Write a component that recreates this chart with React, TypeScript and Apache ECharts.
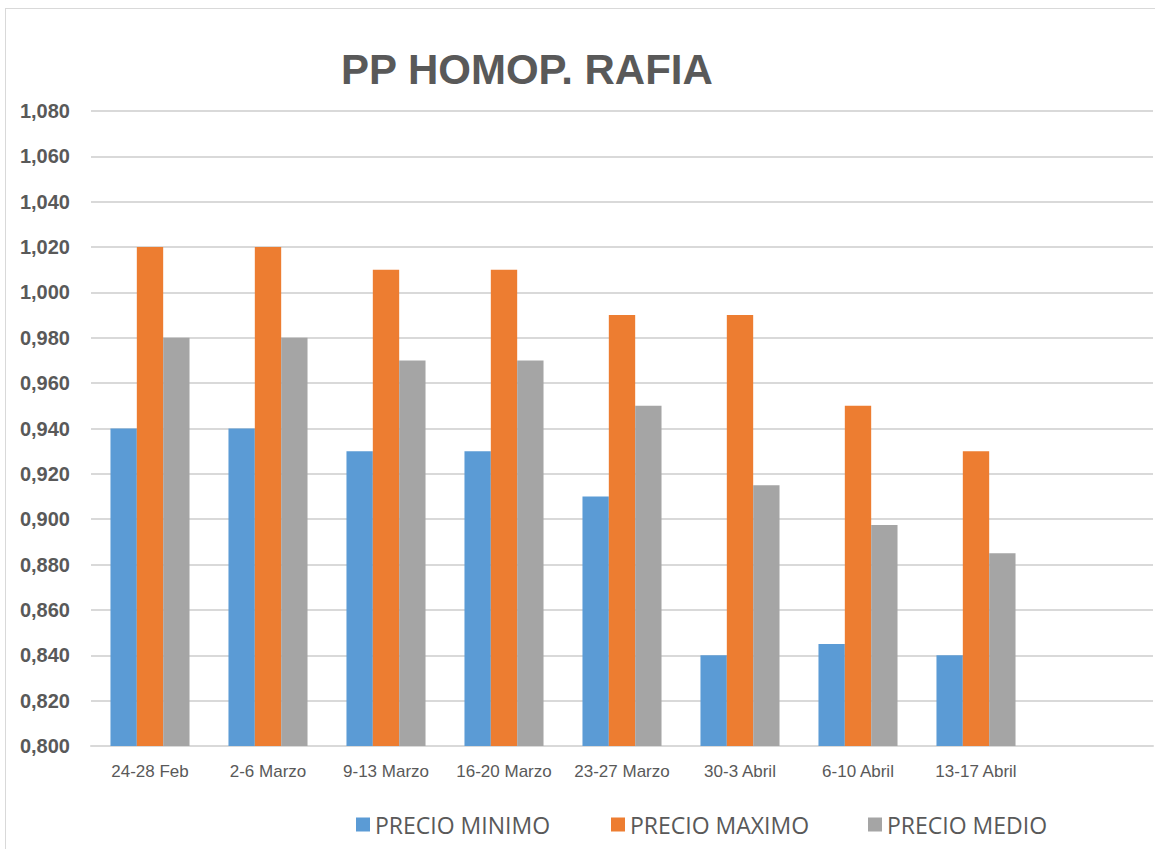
import React, { useEffect, useRef } from "react";
import * as echarts from "echarts";

const categories = ["24-28 Feb", "2-6 Marzo", "9-13 Marzo", "16-20 Marzo", "23-27 Marzo", "30-3 Abril", "6-10 Abril", "13-17 Abril", ""];
const precioMinimo = [0.94, 0.94, 0.93, 0.93, 0.91, 0.84, 0.845, 0.84, null];
const precioMaximo = [1.02, 1.02, 1.01, 1.01, 0.99, 0.99, 0.95, 0.93, null];
const precioMedio = [0.98, 0.98, 0.97, 0.97, 0.95, 0.915, 0.8975, 0.885, null];
const seriesNames = ["PRECIO MINIMO", "PRECIO MAXIMO", "PRECIO MEDIO"];
const colors = ["#5B9BD5", "#ED7D31", "#A5A5A5"];

export default function App() {
  const ref = useRef<HTMLDivElement>(null);
  useEffect(() => {
    const chart = echarts.init(ref.current!, null, { renderer: "svg" });
    const textColor = "#595959";
    const legendLefts = [351, 606, 863];
    chart.setOption({
      animation: false,
      backgroundColor: "#ffffff",
      color: colors,
      title: {
        text: "PP HOMOP. RAFIA",
        left: 336,
        top: 43,
        textStyle: { fontFamily: "Liberation Sans, Arial, sans-serif", fontWeight: "bold", fontSize: 42, color: textColor },
      },
      graphic: [
        {
          type: "line",
          shape: { x1: 5.5, y1: 8, x2: 5.5, y2: 849 },
          style: { stroke: "#d9d9d9", lineWidth: 1 },
        },
        {
          type: "line",
          shape: { x1: 5, y1: 8.5, x2: 1155, y2: 8.5 },
          style: { stroke: "#d9d9d9", lineWidth: 1 },
        },
      ],
      legend: seriesNames.map((name, i) => ({
        data: [name],
        left: legendLefts[i],
        top: 808,
        itemWidth: 14,
        itemHeight: 14,
        icon: "rect",
        textStyle: { fontFamily: "Open Sans, Liberation Sans, sans-serif", fontSize: 23, color: textColor },
      })),
      grid: { left: 91, right: 2, top: 111, bottom: 103, containLabel: false },
      xAxis: {
        type: "category",
        data: categories,
        axisLine: { show: true, lineStyle: { color: "#d9d9d9", width: 2 } },
        axisTick: { show: false },
        axisLabel: {
          interval: 0,
          margin: 17,
          fontSize: 17,
          color: textColor,
          fontFamily: "Liberation Sans Narrow, Liberation Sans, Arial, sans-serif",
        },
      },
      yAxis: {
        type: "value",
        min: 0.8,
        max: 1.08,
        interval: 0.02,
        axisLine: { show: false },
        axisTick: { show: false },
        splitLine: { lineStyle: { color: "#d9d9d9", width: 2 } },
        axisLabel: {
          margin: 21,
          fontSize: 20,
          fontWeight: "bold",
          color: textColor,
          fontFamily: "Liberation Sans, Arial, sans-serif",
          formatter: (v: number) => v.toFixed(3).replace(".", ","),
        },
      },
      series: [
        { name: seriesNames[0], type: "bar", data: precioMinimo, barGap: "0%", barCategoryGap: "33%" },
        { name: seriesNames[1], type: "bar", data: precioMaximo, barGap: "0%", barCategoryGap: "33%" },
        { name: seriesNames[2], type: "bar", data: precioMedio, barGap: "0%", barCategoryGap: "33%" },
      ],
    });
    return () => chart.dispose();
  }, []);
  return <div ref={ref} style={{ position: "fixed", left: 0, top: 0, width: 1155, height: 849 }} />;
}
